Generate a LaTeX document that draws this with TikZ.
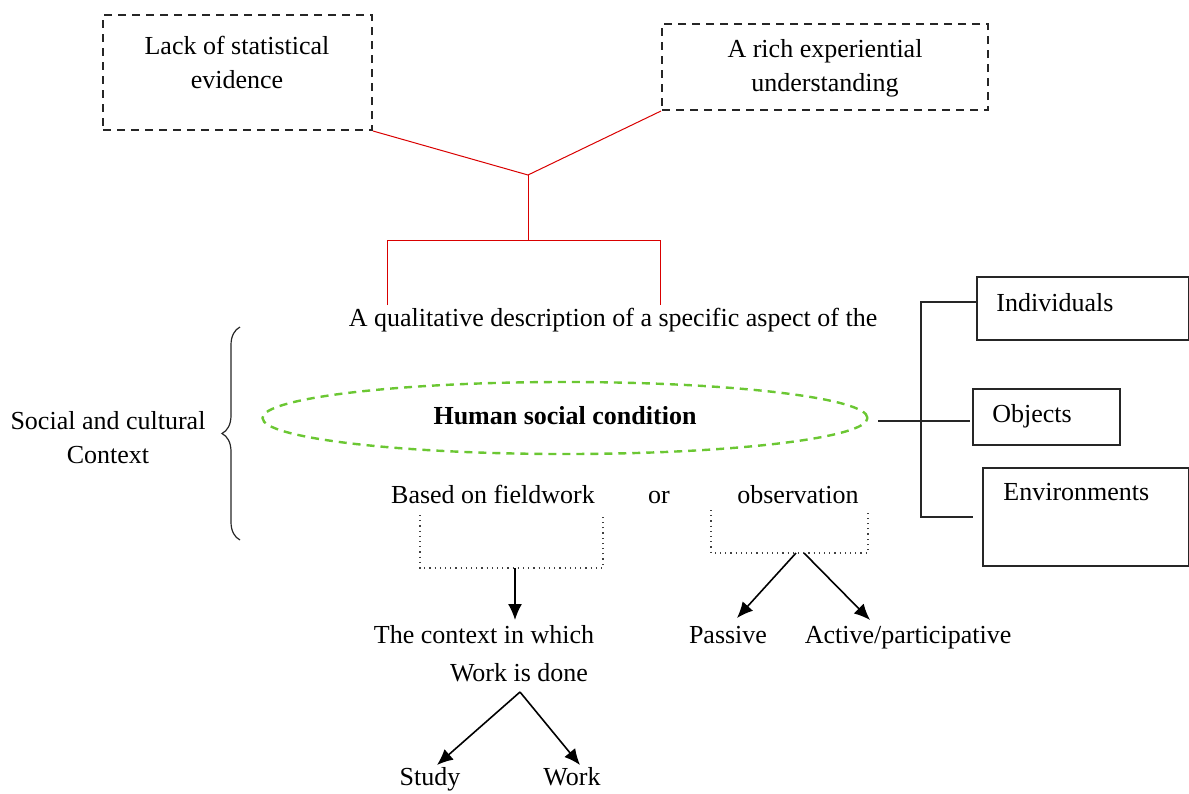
\documentclass[tikz,border=0pt]{standalone}
\usepackage{fontspec}
\setmainfont{Liberation Serif}
\usetikzlibrary{positioning,shapes.geometric,decorations.pathreplacing,arrows.meta}

\begin{document}
\begin{tikzpicture}[x=0.5pt,y=-0.5pt,font=\fontsize{13}{17}\selectfont]
		\tikzstyle{dbox}=[rectangle, draw=black!85, dashed, line width=1pt, dash pattern=on 4pt off 3pt]
		\tikzstyle{sbox}=[rectangle, draw=black!85, line width=0.6pt]
		\tikzstyle{txt}=[inner sep=0pt, align=center]
		\tikzstyle{lbl}=[inner sep=0pt, text height=9pt, text depth=3pt]
		\tikzstyle{redline}=[draw=red!85!black, line width=0.5pt]
		\tikzstyle{link}=[draw=black!85, line width=0.6pt]
		\tikzstyle{dot}=[draw=black!75, dotted, line width=0.6pt]
		\tikzstyle{connect}=[-{Latex[length=8pt,width=7pt]}, line width=0.8pt]
		\useasboundingbox (0,0) rectangle (1189,793);
		% top boxes
		\node[dbox, minimum width=134.5pt, minimum height=57.5pt] (lack) at (237.5,72.5) {};
		\node[txt] at (237,62) {Lack of statistical\\evidence};
		\node[dbox, minimum width=163pt, minimum height=43pt] (rich) at (825,67) {};
		\node[txt] at (825,68) {A rich experiential\\understanding};
		\coordinate (j) at (528,175);
		\coordinate (t) at (528,240);
		\path[redline] (lack.south east) -- (j) -- (rich.south west);
		\path[redline] (j) -- (t);
		\path[redline] (387,305) -- (387,240) -- (660,240) -- (660,305);
		% centre
		\node[lbl] (desc) at (613,320) {A qualitative description of a specific aspect of the};
		\node[ellipse, draw=green!45!olive!80, dashed, line width=1.2pt, dash pattern=on 4pt off 3pt,
			minimum width=302.5pt, minimum height=36pt] (hsc) at (565,418) {};
		\node[lbl, font=\fontsize{13}{17}\selectfont\bfseries] at (565,418) {Human social condition};
		\node[txt] (soc) at (108,438) {Social and cultural\\Context};
		\draw[decorate, decoration={brace, amplitude=9pt}, line width=0.6pt, black!85] (240,540) -- (240,327);
		% right boxes
		\node[sbox, minimum width=106pt, minimum height=31.5pt] (ind) at (1083,308.5) {};
		\node[lbl, anchor=west] at (996,305) {Individuals};
		\node[sbox, minimum width=73.5pt, minimum height=28pt] (obj) at (1046.5,417) {};
		\node[lbl, anchor=west] at (992,416) {Objects};
		\node[sbox, minimum width=103pt, minimum height=49pt] (env) at (1086,517) {};
		\node[lbl, anchor=west] at (1003,494) {Environments};
		\coordinate (top) at (921,302);
		\coordinate (bot) at (921,517);
		\path[link] (878,421) -- (970,421);
		\path[link] (ind.west |- top) -- (top) -- (bot) -- (973,517);
		% lower branches
		\node[lbl] (field) at (493,497) {Based on fieldwork};
		\node[lbl] (or) at (659,497) {or};
		\node[lbl] (obs) at (798,497) {observation};
		\path[dot] (420,515) -- (420,568) -- (603,568) -- (603,515);
		\path[dot] (711,510) -- (711,553) -- (868,553) -- (868,510);
		\node[lbl] (ctx) at (484,637) {The context in which};
		\node[lbl] (done) at (519,675) {Work is done};
		\node[lbl] (pas) at (728,637) {Passive};
		\node[lbl] (act) at (908,637) {Active/participative};
		\node[lbl] (study) at (430,779) {Study};
		\node[lbl] (work) at (572,779) {Work};
		\draw[connect] (515,568) -- (515,620);
		\draw[connect] (796,553) -- (737,618);
		\draw[connect] (804,553) -- (870,620);
		\draw[connect] (520,692) -- (437,765);
		\draw[connect] (520,692) -- (580,765);
\end{tikzpicture}
\end{document}
